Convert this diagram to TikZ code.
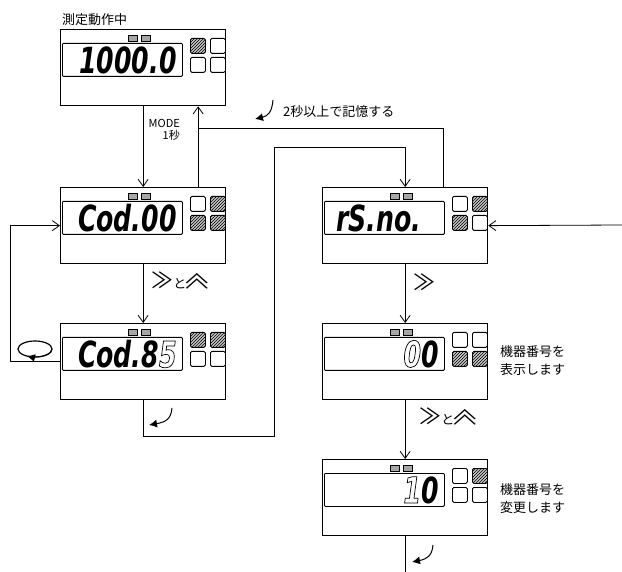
\documentclass[tikz,border=0pt]{standalone}
\usepackage{fontspec}
\usepackage{graphicx}
\setmainfont{Noto Sans CJK JP}
\newfontfamily\lcdfont{DejaVu Sans}[FakeStretch=0.7]
\usetikzlibrary{positioning,arrows.meta,patterns}
\newcommand{\ghost}[1]{\special{pdf:literal direct 1 Tr 0.7 w}#1\special{pdf:literal direct 0 Tr}}
\newcommand{\keyright}{{\fontsize{22}{22}\selectfont ≫}}
\newcommand{\keyup}{{\fontsize{22}{22}\selectfont\raisebox{0pt}{\scalebox{1.3}[0.8]{\rotatebox[origin=c]{-90}{≪}}}}}
\newcommand{\panel}[6]{%
  \node[panelbox, anchor=north west] (#1) at (#2) {};
  \node[lcd, anchor=north west] (#1lcd) at ([xshift=2pt,yshift=-14pt]#1.north west) {};
  \node[#3, anchor=north west] (#1a) at ([xshift=130pt,yshift=-9pt]#1.north west) {};
  \node[#4, anchor=north west] (#1b) at ([xshift=150pt,yshift=-9pt]#1.north west) {};
  \node[#5, anchor=north west] (#1c) at ([xshift=130pt,yshift=-28pt]#1.north west) {};
  \node[#6, anchor=north west] (#1d) at ([xshift=150pt,yshift=-28pt]#1.north west) {};
  \node[ind, anchor=north west] (#1i) at ([xshift=68pt,yshift=-6pt]#1.north west) {};
  \node[ind, anchor=north west] (#1j) at ([xshift=81pt,yshift=-6pt]#1.north west) {};
}

\begin{document}
\begin{tikzpicture}[
    x=1pt, y=-1pt,
    panelbox/.style={draw, line width=1.3pt, minimum width=165pt, minimum height=76pt, inner sep=0pt},
    lcd/.style={draw, line width=0.8pt, rounded corners=1pt, minimum width=120pt, minimum height=33pt, inner sep=0pt},
    lampoff/.style={draw, line width=0.8pt, rounded corners=1.5pt, minimum size=15pt, inner sep=0pt},
    lampon/.style={lampoff, fill=gray!45, postaction={pattern=north east lines}},
    ind/.style={draw, fill=gray!70, line width=0.4pt, minimum width=9pt, minimum height=6pt, inner sep=0pt},
    digits/.style={font=\lcdfont\bfseries\itshape\fontsize{36}{36}\selectfont, inner sep=0pt},
    jp/.style={font=\fontsize{13}{18}\selectfont, inner sep=0pt},
    arrow/.style={-{Straight Barb[length=7pt,width=10pt]}, line width=0.8pt},
    link/.style={line width=0.8pt},
    turn/.style={-{Latex[length=8pt,width=8pt]}, line width=1pt}
]
\useasboundingbox (0,0) rectangle (622,572);
% Panels
\panel{measure}{60,29}{lampon}{lampoff}{lampoff}{lampoff}
\panel{code}{60,187}{lampoff}{lampon}{lampon}{lampon}
\panel{codeset}{60,323}{lampon}{lampon}{lampoff}{lampoff}
\panel{rsno}{322,187}{lampoff}{lampon}{lampon}{lampoff}
\panel{addr}{322,323}{lampoff}{lampoff}{lampon}{lampon}
\panel{addrset}{322,459}{lampoff}{lampon}{lampoff}{lampoff}

\node[digits, left=6pt of measurelcd.east] (measured) {1000.0};
\node[digits, left=6pt of codelcd.east] (coded) {Cod.00};
\node[digits, left=6pt of codesetlcd.east] (codesetd) {Cod.8\ghost{5}};
\node[digits, right=12pt of rsnolcd.west] (rsnod) {rS.no.};
\node[digits, left=6pt of addrlcd.east] (addrd) {\ghost{0}0};
\node[digits, left=6pt of addrsetlcd.east] (addrsetd) {\ghost{1}0};

% Texts
\node[jp, anchor=base west] (title) at (62,25) {測定動作中};
\node[jp, align=right, anchor=north east, font=\fontsize{11}{12}\selectfont] (modelabel) at (180,119) {MODE\\1秒};
\node[jp, anchor=west] (savelabel) at (283,112) {2秒以上で記憶する};
\node[jp] (keys1) at (180,281) {\keyright と\keyup};
\node[jp] (keys2) at (424,282) {\keyright};
\node[jp] (keys3) at (448,417) {\keyright と\keyup};
\node[jp, align=left, anchor=west] (addrnote) at (500,361) {機器番号を\\表示します};
\node[jp, align=left, anchor=west] (addrsetnote) at (500,499) {機器番号を\\変更します};

% Connectors
\coordinate (savejoin) at ([xshift=55pt,yshift=-22pt]measure.south);
\coordinate (bendlow) at (274,436);
\coordinate (bendhigh) at (274,147);
\coordinate (fromright) at (622,225);
\coordinate (toend) at (addrset.south |- 0,572);
\draw[arrow] (measure) -- (code);
\draw[arrow] ([xshift=55pt]code.north) -- ([xshift=55pt]measure.south);
\draw[link] ([xshift=38pt]rsno.north) |- (savejoin);
\draw[arrow] (code) -- (codeset);
\draw[arrow] (codeset.south) |- (bendlow) -- (bendhigh) -| (rsno.north);
\draw[arrow] (codeset.west) -- ++(-50,0) |- (code.west);
\draw[arrow] (fromright) -- (rsno.east);
\draw[arrow] (rsno) -- (addr);
\draw[arrow] (addr) -- (addrset);
\draw[link] (addrset) -- (toend);

% Key icons
\draw[turn] (273,100) .. controls (272,112) and (268,116) .. (255,119);
\draw[turn] (172,408) .. controls (171,419) and (166,422) .. (149,425);
\draw[turn] (433,545) .. controls (432,556) and (427,559) .. (412,562);
\draw[line width=1.2pt] (35,349) ellipse[x radius=17, y radius=8];
\draw[turn] (52,349) arc[start angle=0, end angle=118, x radius=17, y radius=8];
\end{tikzpicture}
\end{document}
